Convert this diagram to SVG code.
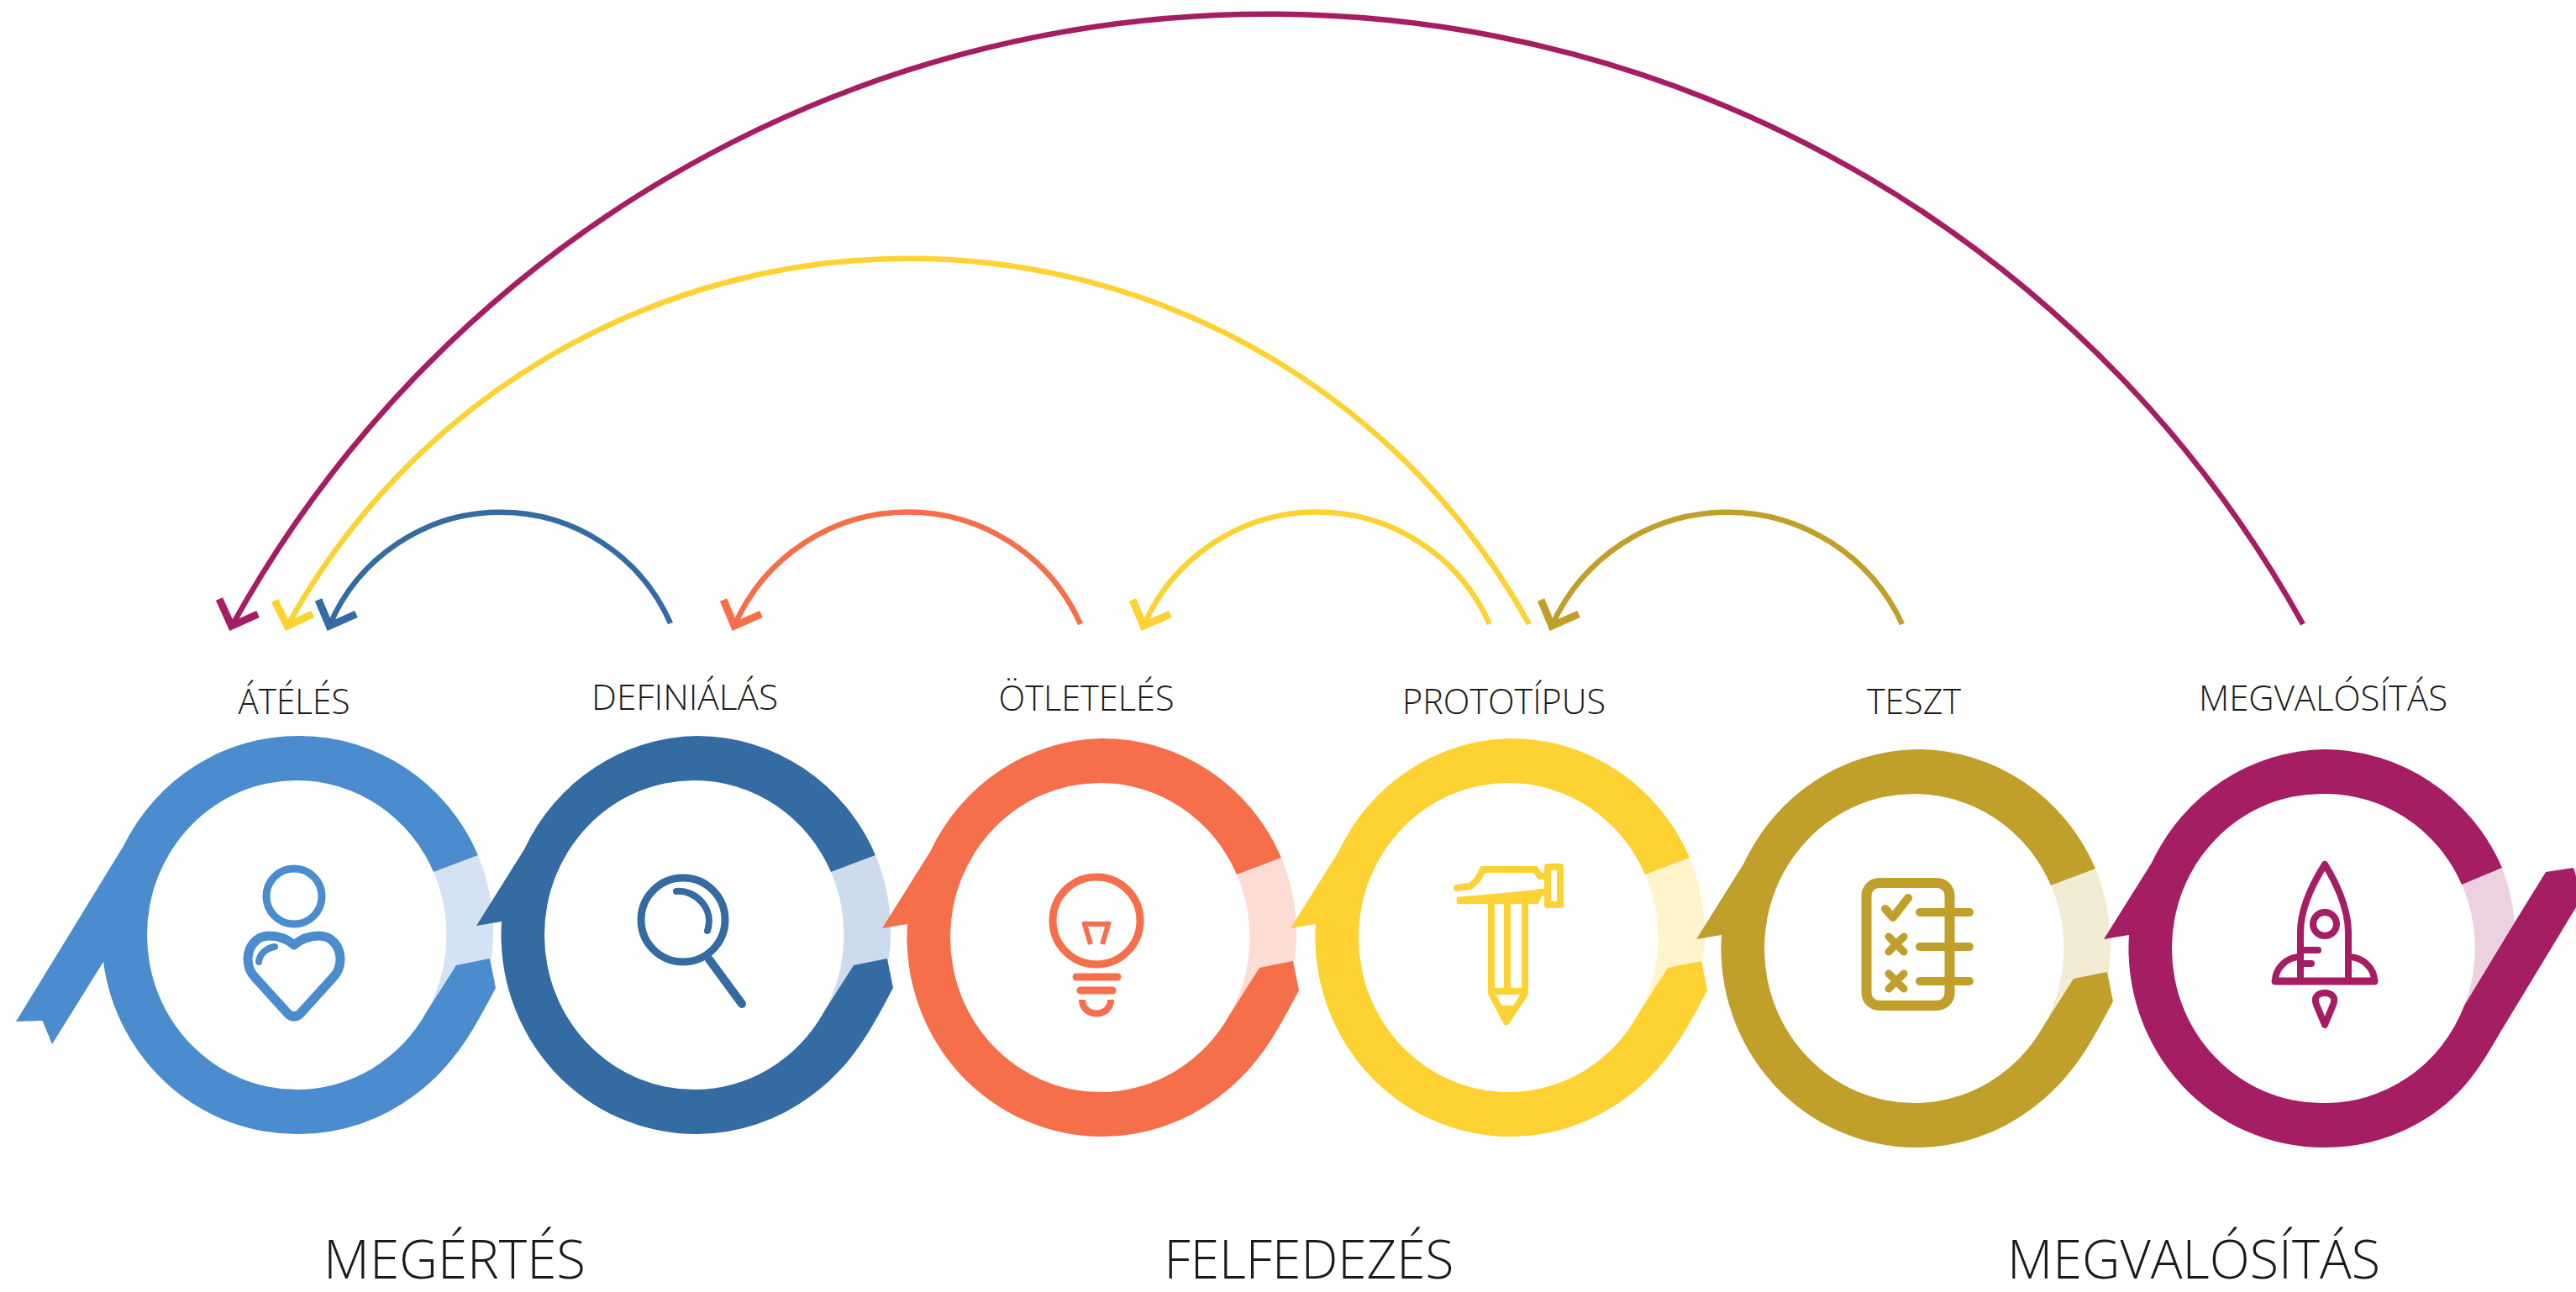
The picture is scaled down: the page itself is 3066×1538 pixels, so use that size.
<svg xmlns="http://www.w3.org/2000/svg" width="3066" height="1538" viewBox="0 0 3066 1538">
<style>
text{font-family:"Open Sans","Noto Sans","Liberation Sans",sans-serif;font-weight:300;fill:#1a1a1a;text-anchor:middle}
.lab{font-size:43px}
.big{font-size:64px}
.arc{fill:none;stroke-width:6.500}
.head{fill:none;stroke-width:9;stroke-linejoin:miter}
.ic{fill:none;stroke-linecap:round;stroke-linejoin:round}
.c1{color:#4a8ccd}.l1{color:#d3e3f3}
.c2{color:#336ba2}.l2{color:#ccdcec}
.c3{color:#f56f4b}.l3{color:#fddcd3}
.c4{color:#fed233}.l4{color:#fff4cc}
.c5{color:#c09f2b}.l5{color:#f3ecd4}
.c6{color:#a51d62}.l6{color:#ecd1e0}
.ring,.light{fill:currentColor}
.ic,.arc,.head{stroke:currentColor}
</style>
<defs>
<path id="ring" d="M216 -95A232 237 0 0 0 4 -237A232 237 0 0 0 -202 -102L-259 -11L-229 -16A232 237 0 0 0 4 237A232 237 0 0 0 140 191C190 154 212 110 237 63L230 28L190 36L155 91A178 184 0 0 1 0 184A178 184 0 0 1 -178 0A178 184 0 0 1 0 -184A178 184 0 0 1 163 -75Z"/>
<path id="light" d="M163 -75L216 -95A232 237 0 0 1 232 28L190 36L155 91A178 184 0 0 0 163 -75Z"/>
</defs>
<rect width="3066" height="1538" fill="#fff"/>
<g id="connectors">
<g class="c6"><path class="arc" d="M2741 743A1408 1408 0 0 0 276 745"/><polyline class="head" points="261,713 275.500,745 307,731"/></g>
<g class="c4"><path class="arc" d="M1820 743A844 844 0 0 0 342 745"/><polyline class="head" points="327,715 342,745 372,731"/></g>
<g class="c2"><path class="arc" d="M798 742A221 221 0 0 0 392 745"/><polyline class="head" points="379,714 392,745 424,731"/></g>
<g class="c3"><path class="arc" d="M1286 743A225 225 0 0 0 874 745"/><polyline class="head" points="861,714 874,745 906,731"/></g>
<g class="c4"><path class="arc" d="M1773 743A225 225 0 0 0 1361 745"/><polyline class="head" points="1348,714 1361,745 1393,731"/></g>
<g class="c5"><path class="arc" d="M2264 743A229 229 0 0 0 1847 745"/><polyline class="head" points="1834,714 1847,745 1879,731"/></g>
</g>
<g id="node-atm">
<g transform="translate(353 1113)"><use href="#light" class="light l1"/><path class="ring c1" d="M216 -95A232 237 0 0 0 4 -237A232 237 0 0 0 -206 -106L-334 103L-302.500 102L-291 130L-230 32A232 237 0 0 0 4 237A232 237 0 0 0 140 191C190 154 212 110 237 63L230 28L190 36L155 91A178 184 0 0 1 0 184A178 184 0 0 1 -178 0A178 184 0 0 1 0 -184A178 184 0 0 1 163 -75Z"/></g>
<g class="ic c1"><circle cx="350" cy="1067" r="33" stroke-width="9"/><path stroke-width="11" d="M350 1125C340 1116 330 1114 320 1114C305 1114 295 1127 295 1142C295 1150 298 1158 304 1164L343 1207Q350 1213 357 1207L396 1164C402 1158 405 1150 405 1142C405 1127 395 1114 380 1114C370 1114 360 1116 350 1125Z"/><path stroke-width="8" d="M308 1145C309 1136 316 1129 327 1127"/></g>
<text class="lab" x="350" y="850" textLength="133" lengthAdjust="spacingAndGlyphs">ÁTÉLÉS</text>
</g>
<g id="node-definialas">
<g transform="translate(826 1113)"><use href="#light" class="light l2"/><use href="#ring" class="ring c2"/></g>
<g class="ic c2"><circle cx="813" cy="1095" r="50" stroke-width="9"/><path stroke-width="8" d="M805 1061C826 1059 851 1080 842 1108"/><path stroke-width="10" d="M844 1142L883 1195"/></g>
<text class="lab" x="815" y="845" textLength="222" lengthAdjust="spacingAndGlyphs">DEFINIÁLÁS</text>
</g>
<g id="node-otleteles">
<g transform="translate(1309 1116)"><use href="#light" class="light l3"/><use href="#ring" class="ring c3"/></g>
<g class="ic c3"><circle cx="1305" cy="1096" r="52" stroke-width="9"/><path stroke-width="6" stroke-linecap="butt" d="M1290 1097L1298 1124M1320 1097L1312 1124M1289 1100H1321"/><path stroke-width="9" d="M1281 1163H1330M1286 1179H1324"/><path stroke-width="8" stroke-linecap="butt" d="M1288 1190C1288 1212 1322 1212 1322 1190"/></g>
<text class="lab" x="1293" y="846" textLength="209" lengthAdjust="spacingAndGlyphs">ÖTLETELÉS</text>
</g>
<g id="node-prototipus">
<g transform="translate(1795 1116)"><use href="#light" class="light l4"/><use href="#ring" class="ring c4"/></g>
<g class="ic c4" stroke-width="8"><path stroke-linejoin="miter" d="M1734 1057L1750 1055L1758 1048L1765 1035H1827L1833 1043H1842M1842 1062H1833L1828 1072H1734Z"/><rect x="1842" y="1032" width="15" height="45"/><path stroke-linecap="butt" d="M1775 1075V1182M1794 1075V1180M1815 1075V1182M1771 1180H1819M1775 1183L1793 1216L1815 1183"/><path fill="currentColor" d="M1785 1201H1802L1793 1216Z"/></g>
<text class="lab" x="1790" y="850" textLength="242" lengthAdjust="spacingAndGlyphs">PROTOTÍPUS</text>
</g>
<g id="node-teszt">
<g transform="translate(2278 1129)"><use href="#light" class="light l5"/><use href="#ring" class="ring c5"/></g>
<g class="ic c5"><rect x="2221.500" y="1051" width="99" height="146" rx="15" stroke-width="12"/><path stroke-width="10" d="M2285 1086H2344M2285 1127H2344M2285 1168H2344"/><path stroke-width="10" d="M2244 1082L2253 1092L2271 1069"/><path stroke-width="9" d="M2248 1115L2266 1133M2266 1115L2248 1133M2248 1159L2266 1177M2266 1159L2248 1177"/></g>
<text class="lab" x="2278" y="850" textLength="112" lengthAdjust="spacingAndGlyphs">TESZT</text>
</g>
<g id="node-megvalositas">
<g transform="translate(2763 1129)"><path class="light l6" d="M167 -76L215 -96A232 237 0 0 1 230 -31L170 68A178 184 0 0 0 167 -76Z"/><path class="ring c6" d="M215 -96A232 237 0 0 0 4 -237A232 237 0 0 0 -202 -102L-259 -11L-229 -16A232 237 0 0 0 4 237A232 237 0 0 0 130 199C175 169 195 130 214 98L303 -49V-86L300 -96L267 -91L230 -31L170 68A178 184 0 0 1 0 184A178 184 0 0 1 -178 0A178 184 0 0 1 0 -184A178 184 0 0 1 167 -76Z"/></g>
<g class="ic c6" stroke-width="8"><path d="M2738 1168V1110C2738 1080 2755 1048 2767 1029C2779 1048 2795 1080 2795 1110V1168"/><path stroke-width="9" d="M2708 1168H2826"/><path d="M2708 1168C2708 1152 2722 1140 2736 1139M2826 1168C2826 1152 2812 1140 2797 1139"/><circle cx="2767" cy="1100" r="14"/><path d="M2738 1131H2759M2738 1147H2751"/><path d="M2767 1220L2757 1196C2753 1186 2760 1182 2767 1182C2774 1182 2781 1186 2777 1196Z"/></g>
<text class="lab" x="2765" y="846" textLength="296" lengthAdjust="spacingAndGlyphs">MEGVALÓSÍTÁS</text>
</g>
<g id="phases">
<text class="big" x="541" y="1522" textLength="312" lengthAdjust="spacingAndGlyphs">MEGÉRTÉS</text>
<text class="big" x="1558" y="1522" textLength="345" lengthAdjust="spacingAndGlyphs">FELFEDEZÉS</text>
<text class="big" x="2611" y="1522" textLength="444" lengthAdjust="spacingAndGlyphs">MEGVALÓSÍTÁS</text>
</g>
</svg>
